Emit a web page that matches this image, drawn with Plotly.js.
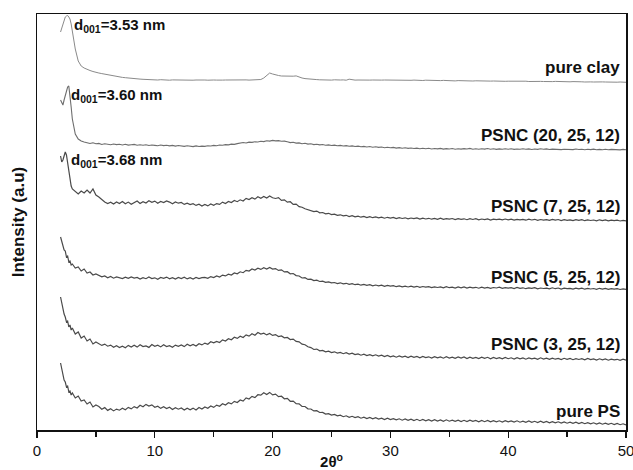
<!DOCTYPE html>
<html>
<head>
<meta charset="utf-8">
<script src="https://cdn.plot.ly/plotly-3.0.1.min.js"></script>
<style>
  html, body { margin: 0; padding: 0; background: #fff; }
  #plot { width: 633px; height: 470px; }
</style>
</head>
<body>
<div id="plot"></div>
<script>
// XRD patterns (2θ in degrees), stacked with vertical offsets, arbitrary intensity units.

// Fine sampling around the low-angle d001 reflection
const lowAngle = [2.0, 2.1, 2.2, 2.3, 2.4, 2.5, 2.6, 2.7, 2.8, 2.9, 3.0,
                  3.25, 3.5, 3.75, 4.0, 4.25, 4.5, 4.75, 5.0];
// Regular scan from 5.25° to 50° in 0.25° steps
const scanStart = 5.25, scanStep = 0.25, scanEnd = 50;

const seriesNames = ['pure clay', 'PSNC (20, 25, 12)', 'PSNC (7, 25, 12)',
                     'PSNC (5, 25, 12)', 'PSNC (3, 25, 12)', 'pure PS'];

const pureClay = [
  398, 402, 406, 410, 413, 414, 414.5, 413, 411, 406, 399, 381, 369, 364, 362, 360.5, 359.5, 358.5, 357.5,
  357, 356.4, 355.8, 355,   354.5, 354, 353.6, 353,   352.6, 352.3, 351.9, 351.5,   351.3, 351, 350.9, 350.7,
  350.5, 350.4, 350.2, 350.2,   350, 350.3, 349.9, 350.1,   349.8, 350.1, 350, 349.8,   350.2, 349.9, 350, 350.1,
  349.8, 350, 350.2, 349.9,   350, 349.8, 350.1, 350,   349.9, 350.2, 349.9, 350,   350.1, 349.8, 350, 350.2,
  349.9, 350, 350.1, 349.9,   350, 350.2, 350.1, 350.5,   352, 354.5, 357, 356,   355, 354.5, 354, 353.8,
  353.7, 353.5, 353.8, 354.1,   352.8, 352, 351.4, 351,   350.8, 350.7, 350.4, 350.2,   350, 350.3, 350, 349.9,
  350.2, 349.9, 350, 350.1,   349.8, 350.8, 350.1, 349.9,   350, 349.8, 350.1, 350,   349.9, 350, 349.8, 350.1,
  349.9, 350, 349.9, 349.8,   350, 349.7, 349.8, 349.9,   349.6, 349.8, 349.7, 349.9,   349.6, 349.7, 349.5, 349.8,
  349.6, 349.4, 349.7, 349.5,   349.4, 349.6, 349.3, 349.5,   349.3, 349.1, 349.4, 349.2,   349.5, 349.1, 349.2, 349,
  349.2, 349, 348.9, 349.1,   349.1, 348.9, 349, 348.8,   348.9, 349, 348.7, 348.8,   348.9, 348.6, 348.8, 348.7,
  348.6, 348.8, 348.5, 348.7,   348.6, 348.4, 348.6, 348.5,   348.3, 348.5, 348.4, 348.6,   348.4, 348.2, 348.4, 348.3,
  348.2, 348.4, 348.1, 348.3,   348.2, 348, 348.3, 348.1,   348, 348.2, 347.9, 348.1,   348, 347.8, 348.1, 347.9,
  347.8, 348, 347.9, 347.7
];

const psnc20 = [
  330, 327, 325, 330, 335, 340, 343, 344, 336, 323, 311, 296, 291, 289, 288, 287.5, 286.5, 287.2, 286.2,
  286.6, 285.5, 286.3, 285.8,   285.2, 286, 285.4, 285.7,   285, 285.8, 284.9, 285.3,   285.6, 284.7, 285.2, 284.8,
  285.3, 284.5, 285, 284.6,   284.2, 285, 284.4, 284.8,   284.1, 284.6, 283.9, 284.5,   284, 283.6, 284.3, 283.8,
  283.4, 284.1, 283.5, 283.9,   283.6, 284.3, 284, 284.6,   284.2, 285, 284.7, 285.4,   285.1, 285.9, 285.6, 286.4,
  286.8, 287.5, 287, 287.9,   287.6, 288.3, 288, 288.7,   288.4, 289.2, 288.9, 289.6,   289.1, 289.4, 288.7, 288.9,
  288.2, 287.4, 287.8, 286.9,   287.1, 286.3, 286.7, 285.9,   286.2, 285.4, 285.8, 285.1,   285.5, 284.8, 285.1, 284.5,
  284.9, 284.2, 284.6, 284,   284.4, 283.7, 284.1, 283.5,   283.9, 283.2, 283.6, 283,   283.5, 282.8, 283.2, 282.6,
  283, 282.3, 282.7, 282.2,   282.6, 281.9, 282.4, 281.8,   282.2, 281.6, 282, 281.5,   281.9, 281.3, 281.8, 281.2,
  281.7, 281, 281.5, 281.1,   281.6, 280.9, 281.4, 281,   281.5, 280.8, 281.3, 280.9,   281.4, 281, 281.6, 280.8,
  281.2, 280.7, 281.3, 280.9,   281.5, 280.8, 281.2, 280.6,   281.1, 280.7, 281.3, 280.8,   281.2, 280.6, 281, 280.7,
  281.3, 280.8, 281.1, 280.5,   281, 280.6, 281.2, 280.7,   281.1, 280.5, 280.9, 280.6,   281, 280.4, 280.8, 280.5,
  280.9, 280.4, 281, 280.5,   280.8, 280.3, 280.7, 280.4,   280.9, 280.3, 280.6, 280.2,   280.7, 280.2, 280.6, 280.3,
  280.5, 280.1, 280.6, 280.2
];

const psnc7 = [
  274, 268, 270, 275, 278, 275, 267, 258, 250, 244, 241, 238, 236, 239, 237, 240, 237, 241, 235,
  233, 230.5, 228, 226.5,   227.8, 225.9, 228.1, 226.4,   228.5, 226.2, 227.9, 225.8,   227.4, 229, 226.6, 228.3,
  227, 229.2, 227.6, 228.9,   226.8, 228.5, 227.4, 229.1,   227.9, 226.2, 228, 226.8,   227.5, 225.6, 226.9, 225.4,
  226.3, 224.6, 225.8, 223.9,   225.5, 224.1, 226, 224.7,   226.4, 225.6, 227.9, 226.5,   228.6, 227.4, 229.5, 228.3,
  230.2, 229, 231.6, 230.4,   232.3, 230.9, 233.2, 231.8,   233.5, 231.9, 234, 232.2,   231.5, 232.4, 229.6, 230.1,
  227.8, 228.3, 225.6, 225.9,   223.4, 222.8, 221.2, 220.1,   219.5, 218.4, 218.9, 217.2,   217.5, 216.1, 216.7, 215.4,
  215.9, 214.6, 215.2, 214.1,   214.7, 213.5, 214.4, 213.2,   213.9, 212.8, 213.6, 212.5,   213.4, 212.3, 213.1, 212.2,
  212.9, 211.8, 212.7, 211.9,   212.6, 211.4, 212.3, 211.5,   212.2, 211.1, 212, 211.3,   212.1, 210.9, 211.8, 211,
  211.7, 210.8, 211.6, 210.7,   211.9, 210.6, 211.4, 210.9,   211.5, 210.4, 211.3, 210.6,   211.2, 210.3, 211.4, 210.5,
  211.3, 210.2, 211, 210.4,   211.1, 210, 210.9, 210.3,   210.8, 210.1, 211, 210.2,   210.9, 209.9, 210.7, 210.1,
  210.6, 209.8, 210.8, 210,   210.7, 209.7, 210.5, 209.9,   210.4, 209.6, 210.6, 209.8,   210.5, 209.5, 210.3, 209.7,
  210.2, 209.4, 210.4, 209.6,   210.3, 209.3, 210.1, 209.5,   210, 209.2, 210.2, 209.4,   210.1, 209.1, 209.9, 209.3,
  209.8, 209, 209.7, 209.2
];

const psnc5 = [
  193, 188, 186, 180, 179, 173, 174, 168, 169, 165, 166, 162, 163, 159, 161, 157, 158, 155, 156,
  154.8, 153.2, 154.1, 152.3,   153.6, 151.8, 153, 152.1,   151.4, 152.9, 151.6, 153.1,   151.9, 152.6, 150.9, 152.4,
  151.3, 153, 151.5, 152.2,   150.8, 152.5, 151.7, 152.9,   151.2, 152.3, 150.9, 152.6,   151.5, 152.8, 151.1, 152.4,
  151, 152.5, 151.4, 152.3,   152.6, 151.7, 153.4, 152.5,   154, 153, 154.9, 154.1,   155.8, 155, 157.1, 156.2,
  158.2, 157.3, 159.6, 159,   161.1, 160, 161.8, 160.6,   162.3, 161, 162.6, 160.9,   161.4, 159.6, 160.2, 158.1,
  158.3, 156.2, 156.5, 154.4,   154, 152, 152.3, 150.6,   150.9, 149.4, 149.8, 148.5,   148.9, 147.6, 148.1, 147.1,
  147.5, 146.4, 147.2, 146.1,   146.7, 145.6, 146.3, 145.3,   145.9, 144.8, 145.6, 144.7,   145.3, 144.2, 145, 144.1,
  144.8, 143.7, 144.6, 143.8,   144.4, 143.3, 144.1, 143.2,   143.9, 143, 143.8, 142.9,   143.7, 142.6, 143.5, 142.8,
  143.4, 142.4, 143.2, 142.5,   143.1, 142.1, 143.3, 142.3,   142.9, 142, 143, 142.2,   143.1, 141.9, 142.8, 142.1,
  142.7, 141.8, 142.9, 141.9,   142.6, 141.7, 142.5, 142,   142.8, 141.6, 142.4, 141.8,   142.3, 141.5, 142.6, 141.6,
  142.2, 141.3, 142.1, 141.7,   142.4, 141.2, 142, 141.5,   141.9, 141.1, 142.2, 141.3,   142, 141, 141.8, 141.4,
  141.7, 140.9, 141.9, 141.2,   141.8, 140.8, 141.6, 141,   141.5, 140.7, 141.7, 140.9,   141.6, 140.6, 141.4, 140.8,
  141.3, 140.5, 141.2, 140.7
];

const psnc3 = [
  133, 127, 124, 116, 113, 108, 109, 103, 105, 100, 102, 96, 98, 92, 94, 89, 91, 86, 88,
  86.4, 84.6, 85.9, 83.8,   84.9, 82.7, 84.2, 82.5,   83.8, 82.3, 84.6, 83,   84.7, 82.9, 85.2, 83.4,
  84.1, 82.6, 85.5, 83.7,   84.8, 83.1, 85.3, 83.5,   84.4, 82.8, 84.9, 83.6,   85.1, 83.4, 85.8, 84.2,
  85.6, 84, 86.3, 85.1,   86.9, 85.7, 88.2, 87.1,   88.6, 87.5, 90.1, 89,   91.3, 90.2, 92.7, 91.6,
  93.8, 92.5, 95.1, 93.9,   96.2, 94.8, 97.5, 95.9,   96.8, 95.1, 96.5, 94.6,   95.4, 93.5, 94.1, 92.2,
  92.6, 90.4, 90.9, 88.6,   88.1, 85.8, 85.3, 83.2,   82.4, 80.5, 80.9, 79.2,   79.6, 78.1, 78.8, 77.4,
  78.2, 76.9, 77.6, 76.3,   77.3, 75.9, 76.8, 75.4,   76.1, 74.8, 75.9, 74.5,   75.4, 74.1, 75.2, 73.9,
  74.8, 73.4, 74.6, 73.2,   74.1, 72.8, 74, 72.9,   73.8, 72.5, 73.9, 72.6,   73.5, 72.2, 73.6, 72.4,
  73.2, 71.9, 73.4, 72.1,   73, 71.8, 73.3, 72,   72.9, 71.6, 73, 71.9,   73.1, 71.5, 72.8, 71.7,
  72.6, 71.4, 72.9, 71.6,   72.7, 71.2, 72.5, 71.5,   72.4, 71.1, 72.6, 71.3,   72.2, 71, 72.3, 71.2,
  72.1, 70.8, 72, 71.1,   71.9, 70.7, 72.2, 70.9,   71.8, 70.6, 71.9, 70.8,   71.6, 70.4, 71.7, 70.7,
  71.5, 70.3, 71.4, 70.5,   71.3, 70.1, 71.5, 70.4,   71.1, 70, 71.2, 70.2,   71, 69.8, 70.9, 70.1,
  70.7, 69.7, 70.8, 69.9
];

const purePS = [
  67, 61, 57, 50, 48, 43, 44, 38, 39, 35, 37, 32, 34, 29, 30, 26, 28, 23, 25,
  23.5, 20.8, 22.4, 19.6,   21.2, 19.1, 20.9, 19.8,   21.7, 20.3, 22.6, 21.1,   23.4, 22, 24.8, 23.3,
  25.6, 23.9, 25.1, 22.7,   23.8, 21.6, 23.2, 21.4,   22.7, 20.5, 22.3, 20.8,   22.1, 19.9, 21.8, 20.3,
  21.9, 20.1, 22.5, 21,   23.1, 21.8, 24, 22.6,   24.9, 23.7, 26.2, 25,   27.3, 26.1, 28.6, 27.5,
  30, 28.9, 32.1, 31,   33.6, 32.4, 35.3, 34.9,   37.2, 35.5, 37.6, 35.1,   35.9, 33.4, 33.8, 31.2,
  31.6, 28.7, 28.9, 26.3,   26.2, 23.6, 23.5, 21.2,   21, 19.1, 19.3, 17.5,   17.6, 15.9, 16.4, 15,
  15.6, 14.1, 14.8, 13.3,   14.2, 12.6, 13.7, 12.4,   13.3, 11.8, 12.9, 11.5,   12.6, 11.1, 12.3, 10.9,
  11.9, 10.5, 11.8, 10.4,   11.4, 10.1, 11.2, 9.8,   11, 9.6, 10.9, 9.5,   10.7, 9.3, 10.5, 9.2,
  10.4, 9, 10.3, 8.9,   10.1, 8.7, 10.2, 8.8,   9.9, 8.6, 9.8, 8.5,   9.7, 8.4, 9.9, 8.6,
  9.5, 8.2, 9.6, 8.3,   9.6, 8.1, 9.3, 8.2,   9.2, 8, 9.4, 8.1,   9.1, 7.9, 9.2, 7.8,
  8.9, 7.7, 9, 7.6,   8.7, 7.5, 8.8, 7.4,   8.5, 7.2, 8.4, 7.1,   8.2, 6.9, 8.1, 6.8,
  7.9, 6.7, 7.8, 6.5,   7.6, 6.3, 7.4, 6.2,   7.2, 6, 7.1, 5.8,   6.9, 5.6, 6.7, 5.4,
  6.5, 5.3, 6.2, 5
];

// d001 spacings of the intercalated clay peaks
const dSpacings = ['3.53', '3.60', '3.68'];

// Build the shared 2θ grid
const twoTheta = lowAngle.slice();
for (let k = 0; scanStart + k * scanStep <= scanEnd + 1e-9; k++) {
  twoTheta.push(+(scanStart + k * scanStep).toFixed(2));
}

const curves = [pureClay, psnc20, psnc7, psnc5, psnc3, purePS];
const lineColors = ['#8a8a8a', '#6e6e6e', '#4a4a4a', '#4a4a4a', '#4a4a4a', '#4a4a4a'];
const lineWidths = [1, 1.1, 1.2, 1.2, 1.2, 1.2];

const traces = curves.map((ys, i) => ({
  x: twoTheta,
  y: ys,
  type: 'scatter',
  mode: 'lines',
  name: seriesNames[i],
  line: { color: lineColors[i], width: lineWidths[i] },
  hoverinfo: 'skip'
}));

// Sample labels at the right end, placed just above each baseline
const labelY = [363, 295, 224, 153, 86, 19];
const fontFam = 'Arial, "Liberation Sans", Helvetica, sans-serif';
const annotations = seriesNames.map((name, i) => ({
  x: 49.7, y: labelY[i], xref: 'x', yref: 'y',
  xanchor: 'right', yanchor: 'middle',
  text: '<b>' + name + '</b>',
  showarrow: false,
  font: { family: fontFam, size: 17, color: '#111' }
}));

// d001 labels next to the low-angle peaks of the clay-containing samples
const dLabelX = [2.97, 2.72, 2.72];
const dLabelY = [405, 335, 270];
dSpacings.forEach((d, i) => {
  annotations.push({
    x: dLabelX[i], y: dLabelY[i], xref: 'x', yref: 'y',
    xanchor: 'left', yanchor: 'middle',
    text: '<b>d<sub>001</sub>=' + d + ' nm</b>',
    showarrow: false,
    font: { family: fontFam, size: 15, color: '#111' }
  });
});

const layout = {
  width: 633, height: 470,
  margin: { l: 37, r: 7, t: 14, b: 40 },
  paper_bgcolor: '#fff', plot_bgcolor: '#fff',
  showlegend: false,
  font: { family: fontFam, color: '#111' },
  xaxis: {
    range: [0, 50],
    dtick: 10, tick0: 0,
    ticks: 'outside', ticklen: 6, tickwidth: 1.2, tickcolor: '#111',
    minor: { dtick: 5, ticks: 'outside', ticklen: 5, tickwidth: 1.2, tickcolor: '#111' },
    showline: true, linecolor: '#111', linewidth: 1.5, mirror: true,
    showgrid: false, zeroline: false,
    ticklabeloverflow: 'allow',
    tickfont: { family: fontFam, size: 15, color: '#111' },
    title: { text: '<b>2θ<sup>o</sup></b>', font: { family: fontFam, size: 15, color: '#111' }, standoff: 2 }
  },
  yaxis: {
    range: [0, 416],
    showticklabels: false, ticks: '',
    showline: true, linecolor: '#111', linewidth: 1.5, mirror: true,
    showgrid: false, zeroline: false,
    title: { text: '<b>Intensity (a.u)</b>', font: { family: fontFam, size: 17, color: '#111' }, standoff: 6 }
  },
  annotations: annotations
};

Plotly.newPlot('plot', traces, layout, { staticPlot: true, displayModeBar: false });
</script>
</body>
</html>
